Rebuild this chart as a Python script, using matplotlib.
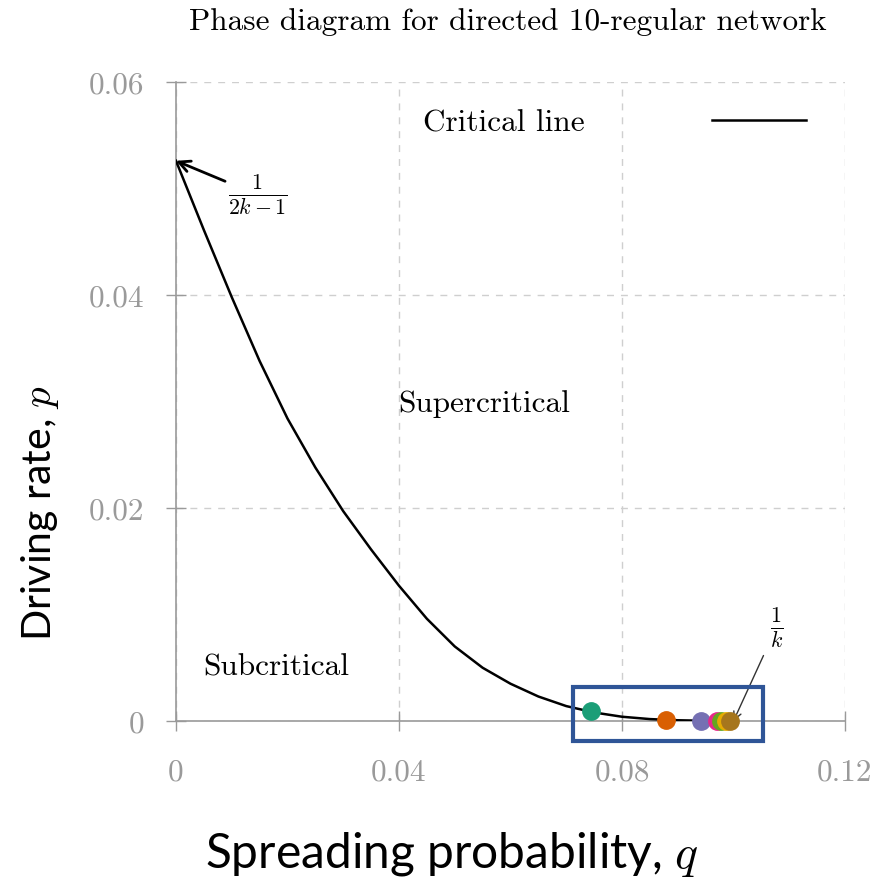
import matplotlib
matplotlib.use("Agg")
import matplotlib.pyplot as plt
from matplotlib.patches import Rectangle

plt.rcParams['mathtext.fontset'] = 'cm'
plt.rcParams['axes.unicode_minus'] = False

# Critical line
crit_q = [0.0, 0.005, 0.010, 0.015, 0.020, 0.025, 0.030, 0.035, 0.040, 0.045, 0.050,
          0.055, 0.060, 0.065, 0.070, 0.075, 0.080, 0.085, 0.090, 0.095, 0.100]
crit_p = [0.0526, 0.0461, 0.0398, 0.0338, 0.0284, 0.0238, 0.0197, 0.0161, 0.0127, 0.0096, 0.0070,
          0.0050, 0.0035, 0.0023, 0.0014, 0.0008, 0.0004, 0.00018, 0.00007, 0.00002, 0.0]

# Simulated points
pt_q = [0.0745, 0.0879, 0.0941, 0.0970, 0.0978, 0.0986, 0.0993]
pt_p = [0.0009, 0.0001, 0.0, 0.0, 0.0, 0.0, 0.0]
pt_colors = ['#1b9e77', '#d95f02', '#7570b3', '#e7298a', '#66a61e', '#e6ab02', '#a6761d']

xticks = [0, 0.04, 0.08, 0.12]
xticklabels = ['0', '0.04', '0.08', '0.12']
yticks = [0, 0.02, 0.04, 0.06]
yticklabels = ['0', '0.02', '0.04', '0.06']

CM = 'cmr10'
grey = '#9a9a9a'
FS = 22.5

fig = plt.figure(figsize=(8.75, 8.78), dpi=100)
ax = fig.add_axes([176/875, 1-722/878, 669/875, 639/878])
ax.set_xlim(0, 0.12)
ax.set_ylim(0, 0.06)

ax.plot(crit_q, crit_p, color='black', lw=1.8, label='Critical line', zorder=3,
        solid_joinstyle='round')
for q, p, c in zip(pt_q, pt_p, pt_colors):
    ax.plot([q], [p], 'o', color=c, ms=12.5, mec=c, zorder=4, clip_on=False)

ax.set_xticks(xticks)
ax.set_xticklabels(xticklabels, fontfamily=CM, fontsize=FS, color=grey)
ax.set_yticks(yticks)
ax.set_yticklabels(yticklabels, fontfamily=CM, fontsize=FS, color=grey)
ax.tick_params(direction='inout', length=14, width=1.0, color=grey)
ax.tick_params(axis='x', pad=19)
ax.tick_params(axis='y', pad=16)
ax.grid(True, ls=(0, (5, 5)), color='#cfcfcf', lw=1.0)
for s in ['top', 'right']:
    ax.spines[s].set_visible(False)
for s in ['left', 'bottom']:
    ax.spines[s].set_color(grey)
    ax.spines[s].set_linewidth(1.2)

leg = ax.legend(loc='center right', bbox_to_anchor=(0.942, (722-124)/639), frameon=False,
                markerfirst=False, handlelength=3.0, handletextpad=4.1,
                borderpad=0, borderaxespad=0,
                prop={'family': CM, 'size': FS})

ax.text(0.0552, 0.0299, 'Supercritical', fontfamily=CM, fontsize=FS, ha='center', va='center')
ax.text(0.0179, 0.0051, 'Subcritical', fontfamily=CM, fontsize=FS, ha='center', va='center')

ax.annotate(r'$\frac{1}{2k-1}$', xy=(0.0, 0.0526), xytext=(0.0093, 0.0494),
            fontsize=FS, ha='left', va='center',
            arrowprops=dict(arrowstyle='->', color='black', lw=2.0,
                            shrinkA=0, shrinkB=0, mutation_scale=20))
ax.annotate(r'$\frac{1}{k}$', xy=(0.1, 0.0), xytext=(0.1077, 0.0088),
            fontsize=FS, ha='center', va='center',
            arrowprops=dict(arrowstyle='->', color='#333333', lw=1.0,
                            shrinkA=6, shrinkB=0, mutation_scale=14))

rect = Rectangle((0.0712, -0.0019), 0.0341, 0.0051, fill=False,
                 edgecolor='#2f5597', lw=3, clip_on=False, zorder=5)
ax.add_patch(rect)

fig.text(508/875, 1-22/878, 'Phase diagram for directed 10-regular network',
         fontfamily=CM, fontsize=FS, ha='center', va='center')
fig.text(452/875, 1-855/878, r'Spreading probability, $q$', fontfamily='Lato',
         fontsize=34.5, ha='center', va='center')
fig.text(40/875, 1-513/878, r'Driving rate, $p$', fontfamily='Lato',
         fontsize=29.5, ha='center', va='center', rotation=90)

fig.savefig('out.png', dpi=100, facecolor='white')
